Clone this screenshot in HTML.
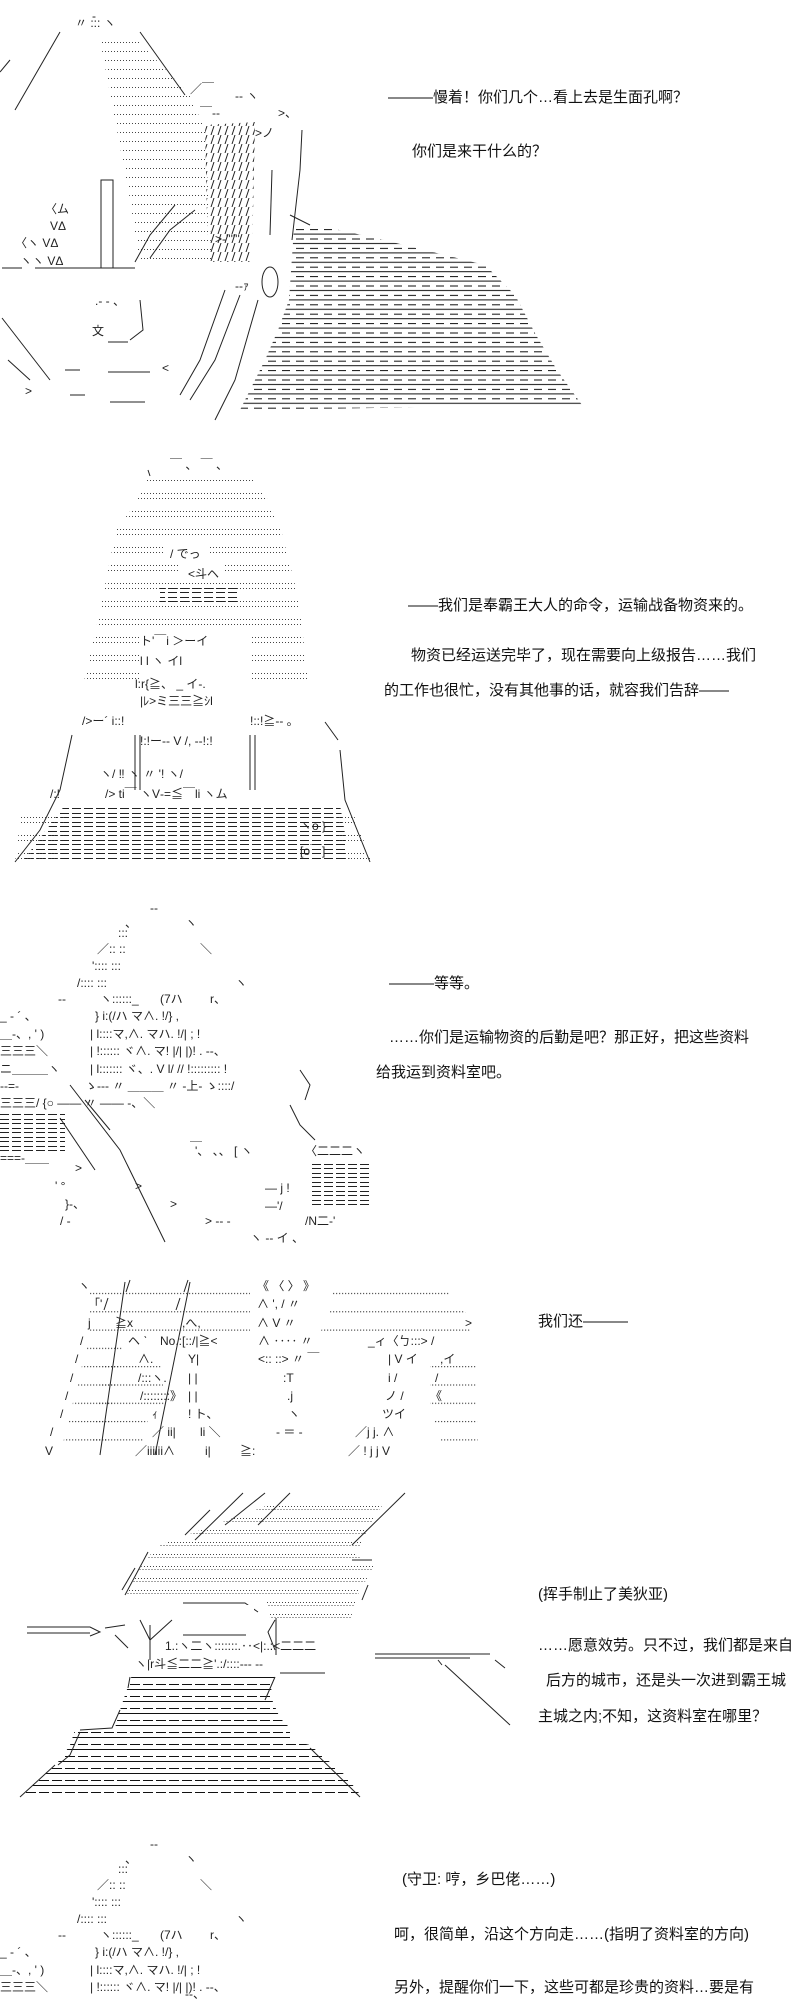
<!DOCTYPE html>
<html><head><meta charset="utf-8"><style>
html,body{margin:0;padding:0;background:#fff;}
body{width:800px;height:2000px;overflow:hidden;position:relative;}
svg{position:absolute;left:0;top:0;}
.t{font-family:"Liberation Sans","Noto Sans CJK SC",sans-serif;font-size:15px;fill:#111;}
.a{font-family:"Liberation Sans","Noto Sans CJK JP",sans-serif;font-size:12px;fill:#222;}
.s{stroke:#222;stroke-width:1;fill:none;}
</style></head><body>
<svg width="800" height="2000" viewBox="0 0 800 2000" xmlns="http://www.w3.org/2000/svg">
<defs>
<pattern id="d9" width="3" height="9" patternUnits="userSpaceOnUse"><rect x="0" y="6" width="1" height="1" fill="#444"/></pattern>
<pattern id="d18" width="3" height="18" patternUnits="userSpaceOnUse"><rect x="0" y="7" width="1" height="1" fill="#444"/><rect x="0" y="12" width="1" height="1" fill="#444"/></pattern>
<pattern id="d18b" width="3" height="18.3" patternUnits="userSpaceOnUse"><rect x="0" y="12" width="1.2" height="1" fill="#333"/></pattern>
<pattern id="d12" width="3" height="12" patternUnits="userSpaceOnUse"><rect x="0" y="6" width="1" height="1" fill="#444"/><rect x="1.5" y="9" width="1" height="1" fill="#444"/></pattern>
<pattern id="hatch" width="7" height="9" patternUnits="userSpaceOnUse"><line x1="1" y1="9" x2="4" y2="0" stroke="#222"/></pattern>
<pattern id="st1" width="14" height="9.4" patternUnits="userSpaceOnUse"><rect x="0" y="8" width="14" height="1" fill="#111"/><rect x="2" y="3.5" width="8" height="1" fill="#111"/></pattern>
<pattern id="st2" width="13" height="12" patternUnits="userSpaceOnUse"><rect x="0" y="4" width="10" height="1" fill="#111"/><rect x="0" y="9" width="13" height="1" fill="#111"/></pattern>
<pattern id="st3" width="12" height="9" patternUnits="userSpaceOnUse"><rect x="0" y="3" width="9" height="1" fill="#222"/><rect x="0" y="7" width="9" height="1" fill="#222"/></pattern>
<g id="guard">
<text class="a" x="150" y="912">‐‐</text>
<text class="a" x="125" y="927">、</text><text class="a" x="185" y="927">ヽ</text>
<text class="a" x="118" y="937">:::</text>
<text class="a" x="97" y="953">／:: ::</text><text class="a" x="200" y="953">＼</text>
<text class="a" x="92" y="970">':::: :::</text>
<text class="a" x="77" y="987">/:::: :::</text><text class="a" x="235" y="987">ヽ</text>
<text class="a" x="58" y="1003">‐‐</text><text class="a" x="100" y="1003">ヽ::::::_</text><text class="a" x="160" y="1003">(7ハ</text><text class="a" x="210" y="1003">r、</text>
<text class="a" x="0" y="1020">_ ‐  ´  、</text><text class="a" x="95" y="1020">} i:(/ハ    マ∧.   !/}   ,</text>
<text class="a" x="0" y="1038">＿‐、, ' )</text><text class="a" x="90" y="1038">|  l::::マ,∧.   マハ.   !/|  ;  !</text>
<text class="a" x="0" y="1055">三三三＼</text><text class="a" x="90" y="1055">|  !:::::: ヾ∧.   マ!   |/|   |)!  .  ‐-、</text>
</g>
</defs>

<!-- ===== Panel 1 ===== -->
<polygon points="100,40 137,40 190,95 205,130 212,265 140,265 130,200" fill="url(#d9)"/>
<polygon points="205,125 255,122 252,262 208,262" fill="url(#hatch)"/>
<polygon points="294,228 330,228 384,240 485,265 515,295 536,335 557,370 582,405 240,410 265,360 278,330 289,300" fill="url(#st1)"/>
<text class="a" x="92" y="20">‐</text><text class="a" x="75" y="27">〃  ::: ヽ</text>
<polyline class="s" points="60,32 15,110"/><polyline class="s" points="140,32 185,95"/>
<polyline class="s" points="10,60 0,72"/>
<text class="a" x="190" y="93">／￣</text><text class="a" x="235" y="100">‐‐  ヽ</text>
<text class="a" x="200" y="117">￣‐‐</text><text class="a" x="278" y="117">&gt;、</text>
<text class="a" x="255" y="137">&gt;ノ</text>
<polyline class="s" points="302,130 300,170 292,240"/><polyline class="s" points="272,170 270,235"/>
<polyline class="s" points="290,215 310,225"/>
<text class="a" x="45" y="213">〈ム</text><text class="a" x="50" y="230">VΔ</text>
<text class="a" x="15" y="247">〈ヽ   VΔ</text><text class="a" x="20" y="265">ヽヽ    VΔ</text>
<rect class="s" x="101" y="180" width="12" height="88"/>
<polyline class="s" points="35,268 135,268"/><polyline class="s" points="2,268 22,268"/>
<polyline class="s" points="135,262 150,235 175,205"/><polyline class="s" points="150,258 170,230 195,210"/>
<text class="a" x="215" y="243">&gt;‐''''''</text>
<ellipse class="s" cx="270" cy="282" rx="8" ry="15"/>
<text class="a" x="235" y="290">‐‐ｧ</text>
<polyline class="s" points="225,290 200,360 180,395"/><polyline class="s" points="240,295 215,360 190,400"/>
<polyline class="s" points="258,300 235,380 215,420"/>
<polyline class="s" points="2,318 50,380"/><polyline class="s" points="8,360 30,380"/>
<text class="a" x="95" y="305">.‐ ‐ 、</text>
<text class="a" x="92" y="335">文</text><polyline class="s" points="140,300 143,330 130,340"/>
<polyline class="s" points="108,342 128,342"/>
<text class="a" x="162" y="372">&lt;</text>
<polyline class="s" points="65,370 80,370"/><polyline class="s" points="108,372 150,372"/>
<text class="a" x="25" y="395">&gt;</text><polyline class="s" points="70,395 85,395"/><polyline class="s" points="110,402 145,402"/>

<text class="t" x="388" y="102">———慢着！你们几个…看上去是生面孔啊？</text>
<text class="t" x="412" y="156">你们是来干什么的？</text>

<!-- ===== Panel 2 ===== -->
<polygon points="147,478 252,478 268,500 281,530 299,600 309,690 82,690 98,620 116,530 131,510" fill="url(#d18)"/>
<polyline class="s" points="150,476 148,470"/><text class="a" x="170" y="469">￣ 、 ￣ 、</text>
<rect x="165" y="545" width="45" height="18" fill="#fff"/><text class="a" x="170" y="558">/ でっ</text>
<rect x="180" y="565" width="45" height="16" fill="#fff"/><text class="a" x="188" y="578">&lt;斗ヘ</text>
<rect x="160" y="585" width="80" height="18" fill="url(#st3)"/>
<rect x="140" y="630" width="110" height="52" fill="#fff"/>
<text class="a" x="140" y="645">ト'￣i  ＞ーイ</text>
<text class="a" x="140" y="665">l  l  ヽ       イl</text>
<text class="a" x="135" y="688">l:r{≧、  _  イ-.</text>
<rect x="140" y="692" width="120" height="16" fill="#fff"/>
<text class="a" x="140" y="705">|ﾚ&gt;ミ三三≧ｼl</text>
<text class="a" x="82" y="725">/&gt;ー´  i::!</text><text class="a" x="250" y="725">!::!≧‐‐  。</text>
<polyline class="s" points="325,722 338,740"/>
<polyline class="s" points="72,735 60,790 40,830 15,862"/>
<polyline class="s" points="340,750 345,800 370,862"/>
<polyline class="s" points="135,735 135,790"/><polyline class="s" points="140,735 140,790"/>
<polyline class="s" points="250,735 250,790"/><polyline class="s" points="255,735 255,790"/>
<text class="a" x="140" y="745">!:!ー‐‐  V  /,   ‐‐!:!</text>
<text class="a" x="100" y="778">ヽ/     ‼     ヽ   〃    '!    ヽ/</text>
<text class="a" x="50" y="798">/:!</text><text class="a" x="105" y="798">/&gt;  ti￣  ヽV‐=≦￣li  ヽム</text>
<polygon points="65,805 340,805 350,862 22,862" fill="url(#st3)"/>
<polygon points="22,805 65,805 62,862 15,862" fill="url(#d18)"/>
<polygon points="330,805 350,805 372,862 345,862" fill="url(#d18)"/>
<text class="a" x="300" y="830">ヽo  }</text>
<text class="a" x="300" y="855">[o￣]</text>

<text class="t" x="408" y="610">——我们是奉霸王大人的命令，运输战备物资来的。</text>
<text class="t" x="411" y="660">物资已经运送完毕了，现在需要向上级报告……我们</text>
<text class="t" x="384" y="695">的工作也很忙，没有其他事的话，就容我们告辞——</text>

<!-- ===== Panel 3 ===== -->
<use href="#guard"/>
<text class="a" x="0" y="1073">ニ＿＿＿ヽ</text><text class="a" x="90" y="1073">|  l:::::::   ヾ、.  V   l/ //   !::::::::: !</text>
<text class="a" x="0" y="1090">‐‐=-</text><text class="a" x="85" y="1090">ゝ‐‐‐    〃  ＿＿＿  〃 ‐上‐  ゝ::::/</text>
<text class="a" x="0" y="1107">三三三/ {○ ――     〃     ――         -、＼</text>
<rect x="0" y="1112" width="65" height="40" fill="url(#st3)"/>
<text class="a" x="0" y="1162">===-＿＿</text>
<polyline class="s" points="70,1085 120,1150 165,1242"/><polyline class="s" points="85,1100 110,1130"/>
<polyline class="s" points="60,1118 95,1170"/>
<text class="a" x="190" y="1140">＿</text><text class="a" x="195" y="1155">'、  、、 [  ヽ</text>
<text class="a" x="305" y="1155">〈二二二ヽ</text>
<rect x="310" y="1162" width="62" height="45" fill="url(#st3)"/>
<text class="a" x="75" y="1172">&gt;</text><text class="a" x="55" y="1190">' °</text><text class="a" x="135" y="1190">&gt;</text>
<text class="a" x="65" y="1208">}‐、</text><text class="a" x="170" y="1208">&gt;</text>
<text class="a" x="60" y="1225">/     ‐</text><text class="a" x="205" y="1225">&gt;   ‐‐   ‐</text><text class="a" x="305" y="1225">/N二‐'</text>
<text class="a" x="265" y="1192">―  j ! </text><text class="a" x="265" y="1210">―'/</text>
<text class="a" x="250" y="1242">ヽ ‐‐ イ   、</text>
<polyline class="s" points="290,1105 300,1125 315,1140"/>
<polyline class="s" points="300,1070 310,1085 305,1100"/>

<text class="t" x="389" y="988">———等等。</text>
<text class="t" x="389" y="1042">……你们是运输物资的后勤是吧？那正好，把这些资料</text>
<text class="t" x="376" y="1077">给我运到资料室吧。</text>

<!-- ===== Panel 4 ===== -->
<polygon points="90,1278 250,1278 250,1333 90,1333" fill="url(#d18b)"/>
<polygon points="335,1278 448,1278 450,1297 468,1315 470,1333 320,1333 330,1310" fill="url(#d18b)"/>
<polygon points="90,1333 125,1333 105,1455 60,1455" fill="url(#d18b)"/>
<polygon points="105,1350 160,1350 165,1410 150,1410 140,1455 90,1455" fill="url(#d18b)"/>
<polygon points="430,1350 475,1350 478,1455 445,1455 430,1410" fill="url(#d18b)"/>
<text class="a" x="78" y="1290">ヽ</text><polyline class="s" points="130,1280 126,1292"/><polyline class="s" points="188,1280 184,1292"/>
<text class="a" x="257" y="1290">《  〈     〉    》</text>
<text class="a" x="88" y="1308">「'</text><text class="a" x="257" y="1308">∧  ',  /      〃</text>
<polyline class="s" points="108,1298 104,1310"/><polyline class="s" points="180,1298 176,1310"/>
<text class="a" x="88" y="1327">j</text><text class="a" x="115" y="1327">≧x</text><text class="a" x="182" y="1327">,へ,</text><text class="a" x="257" y="1327">∧  V     〃</text><text class="a" x="465" y="1327">&gt;</text>
<text class="a" x="80" y="1345">/</text><text class="a" x="128" y="1345">ヘ ˋ</text><text class="a" x="160" y="1345">No.:[::/|≧&lt;</text><text class="a" x="258" y="1345">∧  ‥‥  〃</text><text class="a" x="368" y="1345">_ィ〈ㄅ:::&gt;  /</text>
<text class="a" x="75" y="1363">/</text><text class="a" x="138" y="1363">∧.</text><text class="a" x="188" y="1363">Y|</text><text class="a" x="258" y="1363">&lt;::    ::&gt;  〃 ￣</text><text class="a" x="388" y="1363">|  V  イ</text><text class="a" x="440" y="1363">,イ</text>
<text class="a" x="70" y="1382">/</text><text class="a" x="138" y="1382">/:::ヽ.</text><text class="a" x="188" y="1382">|  |</text><text class="a" x="283" y="1382">:T</text><text class="a" x="388" y="1382">i  /</text><text class="a" x="435" y="1382">/</text>
<text class="a" x="65" y="1400">/</text><text class="a" x="140" y="1400">/::::::::》</text><text class="a" x="188" y="1400">|  |</text><text class="a" x="287" y="1400">.j</text><text class="a" x="385" y="1400">ノ /</text><text class="a" x="430" y="1400">《</text>
<text class="a" x="60" y="1418">/</text><text class="a" x="152" y="1418">ｨ</text><text class="a" x="188" y="1418">!  ト、</text><text class="a" x="288" y="1418">ヽ</text><text class="a" x="382" y="1418">ツイ</text>
<text class="a" x="50" y="1436">/</text><text class="a" x="152" y="1436">／ ii|</text><text class="a" x="200" y="1436">li    ＼</text><text class="a" x="276" y="1436">‐ ＝ ‐</text><text class="a" x="355" y="1436">／j    j.    ∧</text>
<text class="a" x="45" y="1455">V</text><text class="a" x="135" y="1455">／iiiiii∧</text><text class="a" x="205" y="1455">i|</text><text class="a" x="240" y="1455">≧:</text><text class="a" x="348" y="1455">／   !   j     j  V</text>
<polyline class="s" points="125,1282 100,1455"/><polyline class="s" points="190,1282 155,1455"/>

<text class="t" x="538" y="1326">我们还———</text>

<!-- ===== Panel 5 ===== -->
<polygon points="282,1500 385,1500 355,1555 375,1565 360,1590 350,1620 270,1620 265,1595 125,1595 145,1560 160,1545" fill="url(#d12)"/>
<polyline class="s" points="243,1493 195,1540"/><polyline class="s" points="210,1510 185,1535"/><polyline class="s" points="265,1493 225,1525"/>
<polyline class="s" points="290,1493 258,1525"/><polyline class="s" points="405,1493 352,1545"/>
<polyline class="s" points="148,1552 125,1595"/><polyline class="s" points="135,1568 122,1590"/>
<polyline class="s" points="352,1560 372,1560"/><polyline class="s" points="368,1585 362,1600"/>
<polyline class="s" points="183,1603 245,1603 258,1612"/>
<polyline class="s" points="27,1627 90,1627 100,1632 90,1636"/><polyline class="s" points="27,1633 90,1633"/>
<polyline class="s" points="105,1628 125,1625"/>
<polyline class="s" points="140,1620 150,1640 172,1620"/><polyline class="s" points="150,1625 150,1660"/>
<polyline class="s" points="115,1635 128,1648"/>
<rect x="182" y="1605" width="72" height="45" fill="#fff"/>
<polyline class="s" points="183,1635 246,1635"/>
<polyline class="s" points="275,1620 268,1632 275,1650"/><polyline class="s" points="276,1618 276,1655"/>
<text class="a" x="165" y="1650">1.:ヽ二ヽ:::::::.‥&lt;|:.:&lt;二二二</text>
<polyline class="s" points="375,1654 490,1654"/><polyline class="s" points="375,1658 470,1658"/>
<polyline class="s" points="445,1665 510,1725"/><polyline class="s" points="495,1660 505,1668"/><polyline class="s" points="438,1660 442,1665"/>
<text class="a" x="135" y="1668">ヽ|r斗≦二二≧'.:/::::‐‐‐  ‐‐</text>
<polyline class="s" points="280,1673 325,1673"/>
<polygon points="132,1675 275,1675 270,1695 280,1718 290,1728 290,1740 310,1745 345,1775 362,1797 20,1797 60,1760 70,1745 75,1730 115,1728 120,1710 125,1695" fill="url(#st2)"/>
<polyline class="s" points="130,1677 128,1688"/><polyline class="s" points="275,1677 265,1700"/>
<polyline class="s" points="120,1710 112,1728 80,1730"/><polyline class="s" points="80,1732 70,1755 58,1765"/>
<polyline class="s" points="55,1765 20,1797"/><polyline class="s" points="310,1748 360,1797"/>

<text class="t" x="538" y="1599">(挥手制止了美狄亚)</text>
<text class="t" x="538" y="1650">……愿意效劳。只不过，我们都是来自</text>
<text class="t" x="546" y="1685">后方的城市，还是头一次进到霸王城</text>
<text class="t" x="538" y="1721">主城之内;不知，这资料室在哪里？</text>

<!-- ===== Panel 6 ===== -->
<use href="#guard" transform="translate(0,936)"/>
<text class="a" x="185" y="1998">‐‐、</text>

<text class="t" x="402" y="1884">(守卫: 哼，乡巴佬……)</text>
<text class="t" x="394" y="1939">呵，很简单，沿这个方向走……(指明了资料室的方向)</text>
<text class="t" x="394" y="1992">另外，提醒你们一下，这些可都是珍贵的资料…要是有</text>
</svg>
</body></html>
